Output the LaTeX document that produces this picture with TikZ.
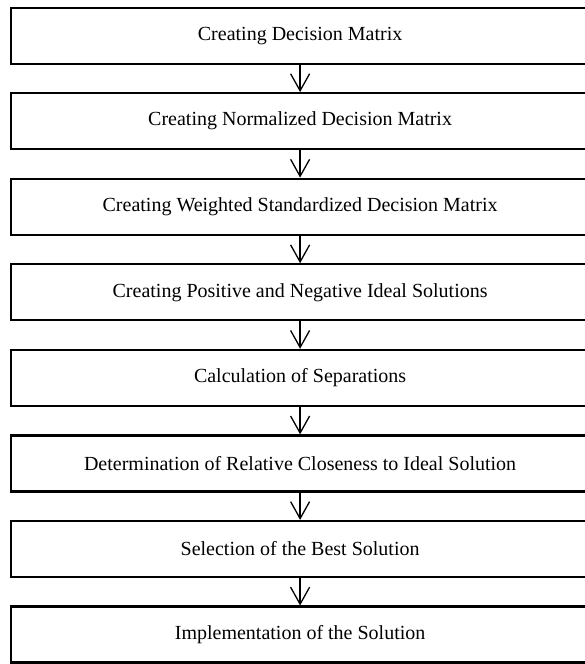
\documentclass[tikz,border=0pt]{standalone}
\usepackage{fontspec}
\setmainfont{Liberation Serif}
\usetikzlibrary{arrows.meta}
\begin{document}
\begin{tikzpicture}[x=1pt,y=-1pt,
  stepbox/.style={draw=black,line width=2.2pt,minimum width=578pt,minimum height=56pt,inner sep=0pt,anchor=north west,font=\fontsize{20}{22}\selectfont},
  flow/.style={line width=1.3pt,-{Straight Barb[length=17pt,width=19pt,line width=1.3pt]}}]
\useasboundingbox (0,0) rectangle (584,664);
\def\pitch{85.57}
\node[stepbox] (b1) at (10,6.5) {Creating Decision Matrix};
\node[stepbox] (b2) at (10,6.5+1*\pitch) {Creating Normalized Decision Matrix};
\node[stepbox] (b3) at (10,6.5+2*\pitch) {Creating Weighted Standardized Decision Matrix};
\node[stepbox] (b4) at (10,6.5+3*\pitch) {Creating Positive and Negative Ideal Solutions};
\node[stepbox] (b5) at (10,6.5+4*\pitch) {Calculation of Separations};
\node[stepbox] (b6) at (10,6.5+5*\pitch) {Determination of Relative Closeness to Ideal Solution};
\node[stepbox] (b7) at (10,6.5+6*\pitch) {Selection of the Best Solution};
\node[stepbox] (b8) at (10,6.5+7*\pitch) {Implementation of the Solution};
\foreach \a/\b in {b1/b2,b2/b3,b3/b4,b4/b5,b5/b6,b6/b7,b7/b8}
  \draw[flow] (\a.south) -- (\b.north);
\end{tikzpicture}
\end{document}
